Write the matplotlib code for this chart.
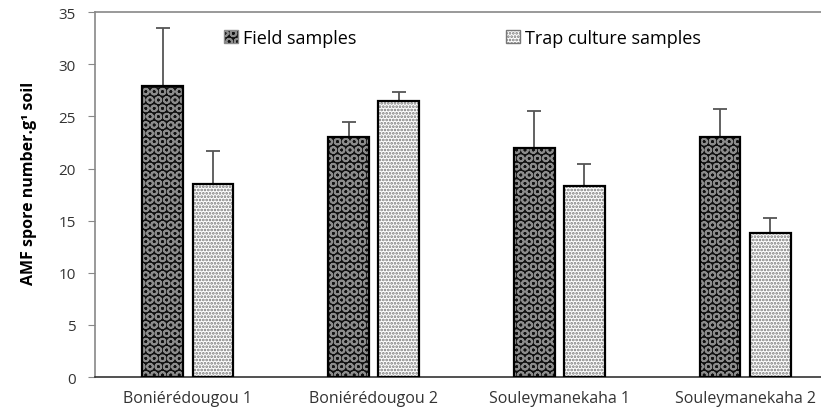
import numpy as np
import matplotlib.pyplot as plt
from matplotlib.patches import Patch

sites = ['Boniérédougou 1', 'Boniérédougou 2', 'Souleymanekaha 1', 'Souleymanekaha 2']
field = [27.9, 23.0, 22.0, 23.0]
field_err = [5.6, 1.5, 3.5, 2.7]
trap = [18.5, 26.5, 18.3, 13.8]
trap_err = [3.2, 0.8, 2.1, 1.5]

plt.rcParams['font.family'] = ['Open Sans', 'DejaVu Sans']
plt.rcParams['hatch.linewidth'] = 1.3

fig = plt.figure(figsize=(8.21, 4.10), dpi=100)
ax = fig.add_axes([0.1157, 0.078, 0.905, 0.89])

x = np.arange(len(sites))
w = 0.22
off = 0.135

# field samples: dark fill with light circle hatch
ax.bar(x - off, field, w, color='#111111', hatch='OO', edgecolor='#8c8c8c', linewidth=0, zorder=2)
ax.bar(x - off, field, w, fill=False, edgecolor='black', linewidth=1.6, zorder=3)
# trap culture samples: white with dotted hatch
ax.bar(x + off, trap, w, color='white', hatch='.....', edgecolor='#777777', linewidth=0, zorder=2)
ax.bar(x + off, trap, w, fill=False, edgecolor='black', linewidth=1.6, zorder=3)

ax.errorbar(x - off, field, yerr=[np.zeros(4), field_err], fmt='none',
            ecolor='#555555', elinewidth=1.3, capsize=5, capthick=1.3, zorder=1)
ax.errorbar(x + off, trap, yerr=[np.zeros(4), trap_err], fmt='none',
            ecolor='#555555', elinewidth=1.3, capsize=5, capthick=1.3, zorder=1)

ax.set_xlim(-0.5, 3.5)
ax.set_ylim(0, 35)
ax.set_yticks(range(0, 36, 5))
ax.set_xticks(x)
ax.set_xticklabels(sites, fontsize=11.5, color='#333333')
ax.tick_params(axis='x', length=0, pad=9)
ax.tick_params(axis='y', labelsize=11, labelcolor='#333333', length=5, color='#888888', pad=9)

ax.spines['right'].set_visible(False)
ax.spines['top'].set_color('#888888')
ax.spines['left'].set_color('#888888')
ax.spines['bottom'].set_color('#333333')
for s in ['top', 'left', 'bottom']:
    ax.spines[s].set_linewidth(1.2)

ax.set_ylabel('AMF spore number.g¹ soil', fontsize=11.5, fontweight='bold')
ax.yaxis.set_label_coords(-0.078, 0.534)

handles = [Patch(facecolor='#111111', hatch='OO', edgecolor='#8c8c8c', label='Field samples'),
           Patch(facecolor='white', hatch='.....', edgecolor='#777777', label='Trap culture samples')]
ax.legend(handles=handles, loc='center', bbox_to_anchor=(0.495, 0.929), ncol=2, frameon=False,
          fontsize=13, handlelength=0.75, handleheight=0.75, handletextpad=0.3, columnspacing=8.3)

fig.savefig('out.png', dpi=100)
